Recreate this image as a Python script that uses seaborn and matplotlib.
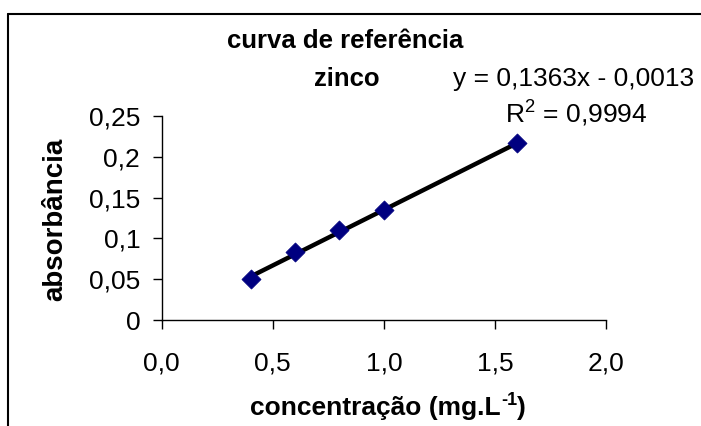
import matplotlib
matplotlib.use("Agg")
import matplotlib.pyplot as plt
import seaborn as sns
import numpy as np
import pandas as pd
from matplotlib.lines import Line2D

# data
concentracao = [0.4, 0.6, 0.8, 1.0, 1.6]
absorbancia = [0.050, 0.083, 0.110, 0.135, 0.217]
slope = 0.1363
intercept = -0.0013
x_ticks = [0.0, 0.5, 1.0, 1.5, 2.0]
x_ticklabels = ["0,0", "0,5", "1,0", "1,5", "2,0"]
y_ticks = [0, 0.05, 0.1, 0.15, 0.2, 0.25]
y_ticklabels = ["0", "0,05", "0,1", "0,15", "0,2", "0,25"]

sns.set_style("white")
plt.rcParams['font.family'] = ['Liberation Sans', 'DejaVu Sans']
plt.rcParams['text.color'] = 'black'
plt.rcParams['axes.labelcolor'] = 'black'
plt.rcParams['xtick.color'] = 'black'
plt.rcParams['ytick.color'] = 'black'

df = pd.DataFrame({"x": concentracao, "y": absorbancia})

W, H = 701, 426
fig = plt.figure(figsize=(W / 100, H / 100), dpi=100)
ax = fig.add_axes([161.7 / W, 1 - 320 / H, (606 - 161.7) / W, (320 - 116) / H])

xs = np.array([min(concentracao), max(concentracao)])
ax.plot(xs, slope * xs + intercept, color="black", lw=3.2, zorder=2)
sns.scatterplot(data=df, x="x", y="y", ax=ax, marker="D", s=95, color="#000080",
                edgecolor="#000080", linewidth=0.5, zorder=3)

ax.set_xlim(0, 2.0)
ax.set_ylim(0, 0.25)
ax.set_xticks(x_ticks)
ax.set_xticklabels(x_ticklabels)
ax.set_yticks(y_ticks)
ax.set_yticklabels(y_ticklabels)
ax.tick_params(axis="both", direction="out", length=6.5, width=1, color="black",
               labelsize=19, labelcolor="black", bottom=True, left=True)
ax.tick_params(axis="x", pad=16)
ax.tick_params(axis="y", pad=9)
for s in ["top", "right"]:
    ax.spines[s].set_visible(False)
for s in ["left", "bottom"]:
    ax.spines[s].set_color("black")
    ax.spines[s].set_linewidth(1)
ax.set_xlabel("")
ax.set_ylabel("")

# y label
fig.text(55 / W, 1 - 219 / H, "absorbância", rotation=90, ha="center", va="center",
         fontsize=20, fontweight="bold")

# x label with hyphen superscript, composed from pieces
renderer = fig.canvas.get_renderer()
lab_main = "concentração (mg.L"
lab_sup = "-1"
lab_end = ")"
base_y = 1 - 415 / H
t1 = fig.text(0, base_y, lab_main, ha="left", va="baseline", fontsize=19, fontweight="bold")
t2 = fig.text(0, base_y + 10 / H, lab_sup, ha="left", va="baseline", fontsize=13, fontweight="bold")
t3 = fig.text(0, base_y, lab_end, ha="left", va="baseline", fontsize=19, fontweight="bold")
w1 = t1.get_window_extent(renderer).width
w2 = t2.get_window_extent(renderer).width
w3 = t3.get_window_extent(renderer).width
total = w1 + w2 + w3
x0 = 388 - total / 2
t1.set_x(x0 / W)
t2.set_x((x0 + w1) / W)
t3.set_x((x0 + w1 + w2) / W)

fig.text(345 / W, 1 - 48 / H, "curva de referência", ha="center", va="baseline",
         fontsize=18.5, fontweight="bold")
fig.text(347 / W, 1 - 86 / H, "zinco", ha="center", va="baseline",
         fontsize=18.5, fontweight="bold")
fig.text(574 / W, 1 - 86 / H, "y = 0,1363x - 0,0013", ha="center", va="baseline", fontsize=19)
fig.text(576 / W, 1 - 122 / H, "R$^{\\mathregular{2}}$ = 0,9994", ha="center", va="baseline", fontsize=19)

# outer frame (top and left edges)
fig.add_artist(Line2D([8 / W, 1], [1 - 14 / H, 1 - 14 / H], color="black", lw=1.5,
                      transform=fig.transFigure))
fig.add_artist(Line2D([8 / W, 8 / W], [0, 1 - 14 / H], color="black", lw=1.5,
                      transform=fig.transFigure))

fig.savefig("out.png", dpi=100)
